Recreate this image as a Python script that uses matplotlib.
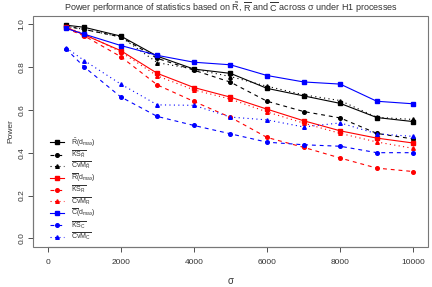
import matplotlib
matplotlib.use('Agg')
from matplotlib import pyplot as plt
from matplotlib.patches import Rectangle

plt.rcParams['font.family'] = ['Liberation Sans', 'DejaVu Sans']
plt.rcParams['mathtext.fontset'] = 'custom'
plt.rcParams['mathtext.rm'] = 'Liberation Sans'
plt.rcParams['mathtext.it'] = 'Liberation Sans'
plt.rcParams['mathtext.bf'] = 'Liberation Sans:bold'

sigma = [500, 1000, 2000, 3000, 4000, 5000, 6000, 7000, 8000, 9000, 10000]

rt_dmax = [0.995, 0.985, 0.944, 0.85, 0.79, 0.77, 0.70, 0.665, 0.63, 0.564, 0.545]
rt_ks = [0.99, 0.975, 0.94, 0.84, 0.785, 0.729, 0.64, 0.592, 0.562, 0.49, 0.464]
rt_cvm = [0.99, 0.975, 0.94, 0.82, 0.79, 0.755, 0.71, 0.67, 0.643, 0.565, 0.555]

r_dmax = [0.985, 0.95, 0.876, 0.77, 0.704, 0.659, 0.603, 0.549, 0.502, 0.468, 0.445]
r_ks = [0.98, 0.945, 0.848, 0.716, 0.639, 0.565, 0.471, 0.425, 0.375, 0.328, 0.312]
r_cvm = [0.985, 0.955, 0.87, 0.758, 0.693, 0.65, 0.59, 0.538, 0.49, 0.45, 0.42]

c_dmax = [0.98, 0.953, 0.90, 0.854, 0.822, 0.81, 0.76, 0.73, 0.72, 0.64, 0.628]
c_ks = [0.885, 0.80, 0.66, 0.569, 0.527, 0.488, 0.449, 0.437, 0.43, 0.40, 0.40]
c_cvm = [0.89, 0.83, 0.72, 0.623, 0.621, 0.566, 0.553, 0.52, 0.539, 0.488, 0.476]

labels = [r'$\tilde{R}(d_{max})$', r'$\overline{KS_{\tilde{R}}}$', r'$\overline{CvM_{\tilde{R}}}$',
          r'$\overline{R}(d_{max})$', r'$\overline{KS_{R}}$', r'$\overline{CvM_{R}}$',
          r'$\overline{C}(d_{max})$', r'$\overline{KS_{C}}$', r'$\overline{CvM_{C}}$']

series = [rt_dmax, rt_ks, rt_cvm, r_dmax, r_ks, r_cvm, c_dmax, c_ks, c_cvm]
colors = ['black'] * 3 + ['#ff0000'] * 3 + ['#0000ff'] * 3
styles = ['-', (0, (3.5, 3.5)), (0, (1, 3))] * 3
markers = ['s', 'o', '^'] * 3

fig = plt.figure(figsize=(4.32, 2.87), dpi=100)
ax = fig.add_axes([33 / 432, 1 - 247 / 287, 395 / 432, 231.5 / 287])

for y, lab, col, ls, mk in zip(series, labels, colors, styles, markers):
    ax.plot(sigma, y, color=col, linestyle=ls, linewidth=0.8, marker=mk, markersize=2.6,
            label=lab)

ax.set_xlim(-400, 10400)
ax.set_ylim(-0.04, 1.04)
ax.set_xticks([0, 2000, 4000, 6000, 8000, 10000])
ax.set_yticks([0.0, 0.2, 0.4, 0.6, 0.8, 1.0])
ax.set_yticklabels(['0.0', '0.2', '0.4', '0.6', '0.8', '1.0'], rotation=90, va='center')
ax.tick_params(direction='out', length=3.5, width=0.6, labelsize=6, colors='#333333')
ax.tick_params(axis='y', pad=2)
ax.tick_params(axis='x', pad=5)

for s in ax.spines.values():
    s.set_visible(False)
ax.add_patch(Rectangle((0, 0), 1, 1, transform=ax.transAxes, fill=False,
                       edgecolor='#777777', linewidth=0.8, clip_on=False))
ax.spines['bottom'].set_visible(True)
ax.spines['left'].set_visible(True)
ax.spines['bottom'].set_bounds(0, 10000)
ax.spines['left'].set_bounds(0, 1)
ax.spines['bottom'].set_color('#777777')
ax.spines['left'].set_color('#777777')

ax.set_xlabel(r'$\sigma$', fontsize=7, color='#333333', labelpad=7)
ax.set_ylabel('Power', fontsize=6, color='#333333', labelpad=3)

leg = ax.legend(loc='lower left', bbox_to_anchor=(0.03, 0.0), frameon=False, fontsize=5,
                handlelength=2.0, handletextpad=1.0, labelspacing=0.0, borderpad=0.2)
for t in leg.get_texts():
    t.set_color('#333333')

fig.text(0.535, 1.0, r'Power performance of statistics based on $\tilde{R}$, $\overline{R}$ and $\overline{C}$ across $\sigma$ under H1 processes',
         ha='center', va='top', fontsize=6.5, color='#333333')

fig.savefig('out.png', dpi=100)
